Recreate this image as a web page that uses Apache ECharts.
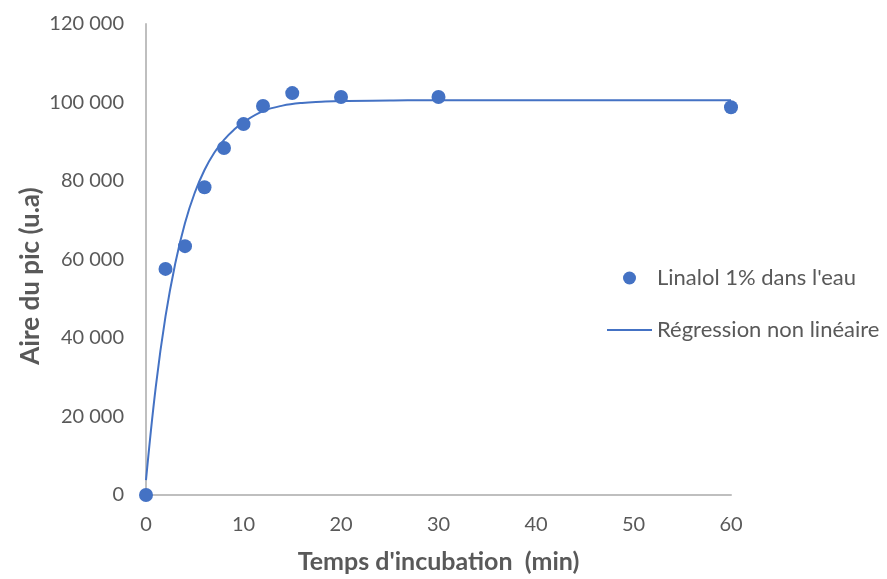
<!DOCTYPE html>
<html><head><meta charset="utf-8">
<script src="https://cdn.jsdelivr.net/npm/echarts@6/dist/echarts.min.js"></script>
<style>html,body{margin:0;padding:0;background:#fff}#c{width:887px;height:579px}</style>
</head><body><div id="c"></div>
<script>
const obsX = [0, 2, 4, 6, 8, 10, 12, 15, 20, 30, 60];
const obsY = [0, 57600, 63400, 78400, 88400, 94500, 99100, 102400, 101400, 101400, 98800];
const fitX = [0, 1, 2, 3, 4, 5, 6, 7, 8, 9, 10, 12, 14, 16, 18, 20, 25, 30, 40, 50, 60];
const fitY = [3800, 27500, 45500, 59000, 69300, 77000, 82800, 87200, 90500, 93000, 95000, 97800, 99200, 99900, 100200, 100400, 100500, 100600, 100600, 100600, 100600];
const seriesNames = ["Linalol 1% dans l'eau", "Régression non linéaire"];
const xTitle = "Temps d'incubation  (min)";
const yTitle = "Aire du pic (u.a)";

const font = 'Lato, "Open Sans", sans-serif';
const grey = '#595959';
const chart = echarts.init(document.getElementById('c'));
chart.setOption({
  animation: false,
  textStyle: {fontFamily: font},
  grid: {left: 146, right: 156, top: 24, bottom: 84},
  legend: {
    orient: 'vertical', left: 602, top: 262, itemWidth: 45, itemHeight: 13, itemGap: 30,
    symbolKeepAspect: true,
    textStyle: {fontFamily: font, fontSize: 22, color: grey},
    data: [{name: seriesNames[0], icon: 'circle'},
           {name: seriesNames[1], icon: 'path://M0,0H100V4H0Z', itemStyle: {color: '#4472C4'}}]
  },
  graphic: [{
    type: 'text', x: 31, y: 276, rotation: Math.PI / 2,
    style: {text: yTitle, fontFamily: font, fontSize: 26, fontWeight: 'bold', fill: grey,
            align: 'center', verticalAlign: 'middle'}
  }],
  xAxis: {
    type: 'value', min: 0, max: 60, interval: 10,
    name: xTitle, nameLocation: 'middle', nameGap: 54,
    nameTextStyle: {fontFamily: font, fontSize: 25, fontWeight: 'bold', color: grey},
    axisLine: {show: true, lineStyle: {color: '#bfbfbf', width: 2}},
    axisTick: {show: false}, splitLine: {show: false},
    axisLabel: {fontFamily: font, fontSize: 20, color: grey, margin: 20}
  },
  yAxis: {
    type: 'value', min: 0, max: 120000, interval: 20000,
    axisLine: {show: true, lineStyle: {color: '#bfbfbf', width: 2}},
    axisTick: {show: false}, splitLine: {show: false},
    axisLabel: {fontFamily: font, fontSize: 20, color: grey, margin: 22,
      formatter: v => String(v).replace(/\B(?=(\d{3})+(?!\d))/g, ' ')}
  },
  series: [
    {name: seriesNames[1], type: 'line', smooth: 0.4, showSymbol: false, symbol: 'none',
     lineStyle: {color: '#4472C4', width: 2}, itemStyle: {color: '#4472C4'},
     data: fitX.map((x, i) => [x, fitY[i]]), z: 2},
    {name: seriesNames[0], type: 'scatter', symbol: 'circle', symbolSize: 14,
     itemStyle: {color: '#4472C4', opacity: 1}, data: obsX.map((x, i) => [x, obsY[i]]), z: 3}
  ]
});
</script></body></html>
